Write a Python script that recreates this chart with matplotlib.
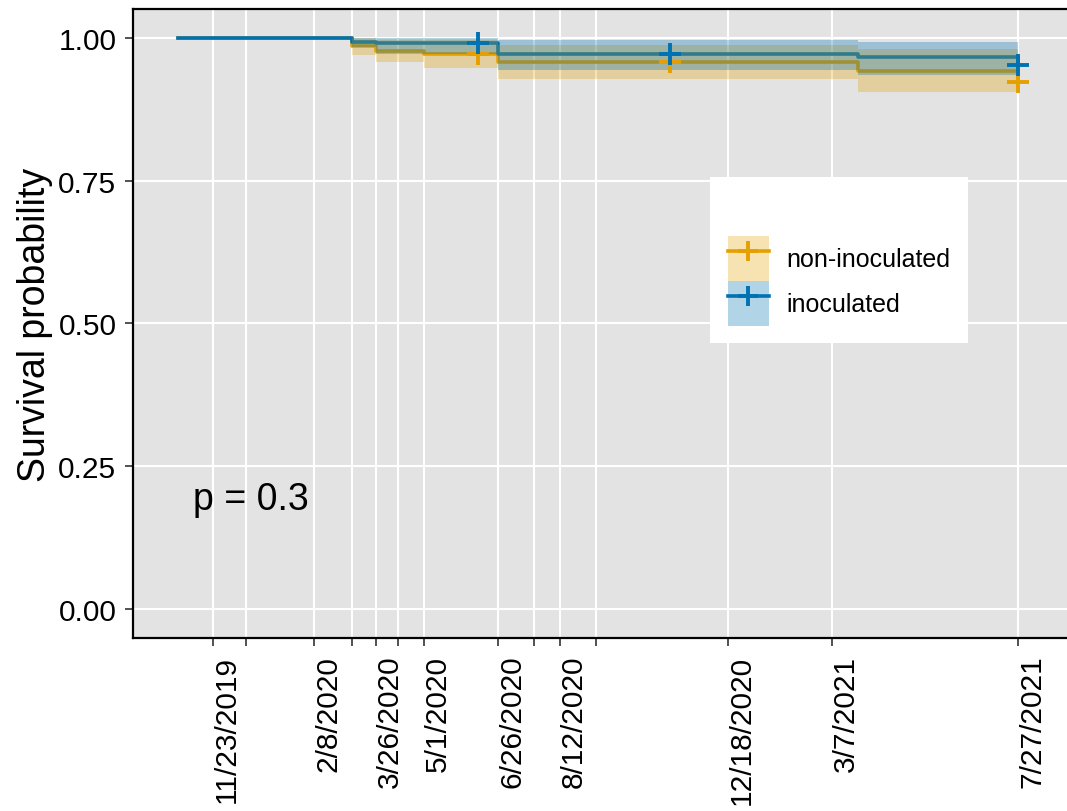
#!/usr/bin/env python3
"""
Kaplan-Meier survival curves, inoculated vs non-inoculated,
with confidence bands, censoring marks and log-rank p-value.
"""

import matplotlib
matplotlib.use("Agg")
import matplotlib.pyplot as plt
from matplotlib.patches import Patch
from matplotlib.lines import Line2D
from matplotlib.legend_handler import HandlerTuple

# Follow-up time (days from first enrolment) at each step of the curves
step_days = [0, 174, 198, 246, 320, 680, 840]

# Non-inoculated group
surv_non = [1.0, 0.986, 0.977, 0.972, 0.958, 0.942, 0.923]
lower_non = [1.0, 0.969, 0.958, 0.946, 0.927, 0.905, 0.905]
upper_non = [1.0, 0.999, 0.996, 0.995, 0.987, 0.980, 0.980]

# Inoculated group
surv_ino = [1.0, 0.993, 0.990, 0.990, 0.972, 0.966, 0.952]
lower_ino = [1.0, 0.983, 0.972, 0.972, 0.943, 0.934, 0.934]
upper_ino = [1.0, 1.0, 1.0, 1.0, 0.995, 0.993, 0.993]

# Censoring times and the survival level at each
censor_days = [300, 492, 840]
censor_non = [0.972, 0.958, 0.923]
censor_ino = [0.990, 0.972, 0.952]

# Axis breaks (days) and their date labels; unlabeled breaks left blank
break_days = [35, 68, 136, 174, 198, 220, 246, 320, 356, 382, 418, 550, 654, 840]
break_labels = ["11/23/2019", "", "2/8/2020", "", "3/26/2020", "", "5/1/2020",
                "6/26/2020", "", "8/12/2020", "", "12/18/2020", "3/7/2021", "7/27/2021"]

groups = ["non-inoculated", "inoculated"]
colors = ["#E69F00", "#0072B2"]
p_value_text = "p = 0.3"


def main():
    plt.rcParams.update({
        "font.family": ["Liberation Sans", "DejaVu Sans"],
        "text.color": "black",
    })

    fig = plt.figure(figsize=(10.67, 8.12), dpi=100)
    ax = fig.add_axes([0.1247, 0.2131, 0.8753, 0.7746])
    ax.set_facecolor("#E3E3E3")

    series = [
        (surv_non, lower_non, upper_non, censor_non),
        (surv_ino, lower_ino, upper_ino, censor_ino),
    ]

    handles = []
    for (surv, lo, hi, cens), color, name in zip(series, colors, groups):
        ax.step(step_days, surv, where="post", color=color, linewidth=2.6, zorder=3)
        ax.fill_between(step_days, lo, hi, step="post", color=color,
                        alpha=0.3, linewidth=0, zorder=4)
        ax.plot(censor_days, cens, linestyle="none", marker="+", markersize=16,
                markeredgewidth=2.8, color=color, zorder=5)
        handles.append((
            Patch(facecolor=color, alpha=0.3, edgecolor="none"),
            Line2D([], [], color=color, linewidth=2.6, marker="+",
                   markersize=14, markeredgewidth=2.8),
        ))

    # p-value annotation
    ax.text(15, 0.193, p_value_text, fontsize=27, ha="left", va="center", zorder=6)

    ax.set_xlim(-45, 889)
    ax.set_ylim(-0.05, 1.05)
    ax.set_xticks(break_days)
    ax.set_xticklabels(break_labels, rotation=90, ha="left", va="top")
    ax.set_yticks([0, 0.25, 0.5, 0.75, 1.0])
    ax.set_yticklabels(["0.00", "0.25", "0.50", "0.75", "1.00"])
    ax.tick_params(axis="both", labelsize=21.5, length=6, width=1.2,
                   color="#333333", pad=6)
    ax.set_ylabel("Survival probability", fontsize=27, labelpad=4)

    ax.grid(True, color="white", linewidth=1.5, zorder=1)
    ax.set_axisbelow(True)
    for side in ["left", "bottom", "top"]:
        ax.spines[side].set_color("black")
        ax.spines[side].set_linewidth(1.6)
    ax.spines["right"].set_visible(False)

    leg = ax.legend(handles, groups, handler_map={tuple: HandlerTuple(ndivide=1, pad=0)},
                    title=" ", title_fontsize=32, fontsize=18,
                    loc="upper left", bbox_to_anchor=(710 / 1067, 1 - 178 / 812),
                    bbox_transform=fig.transFigure,
                    handlelength=1.65, handleheight=2.4, handletextpad=0.7,
                    labelspacing=0.0, borderpad=0.7, borderaxespad=0,
                    frameon=True, fancybox=False, framealpha=1.0)
    leg.get_frame().set_facecolor("white")
    leg.get_frame().set_edgecolor("none")
    leg.set_zorder(7)

    fig.savefig("out.png", dpi=100)
    plt.close(fig)


if __name__ == "__main__":
    main()
